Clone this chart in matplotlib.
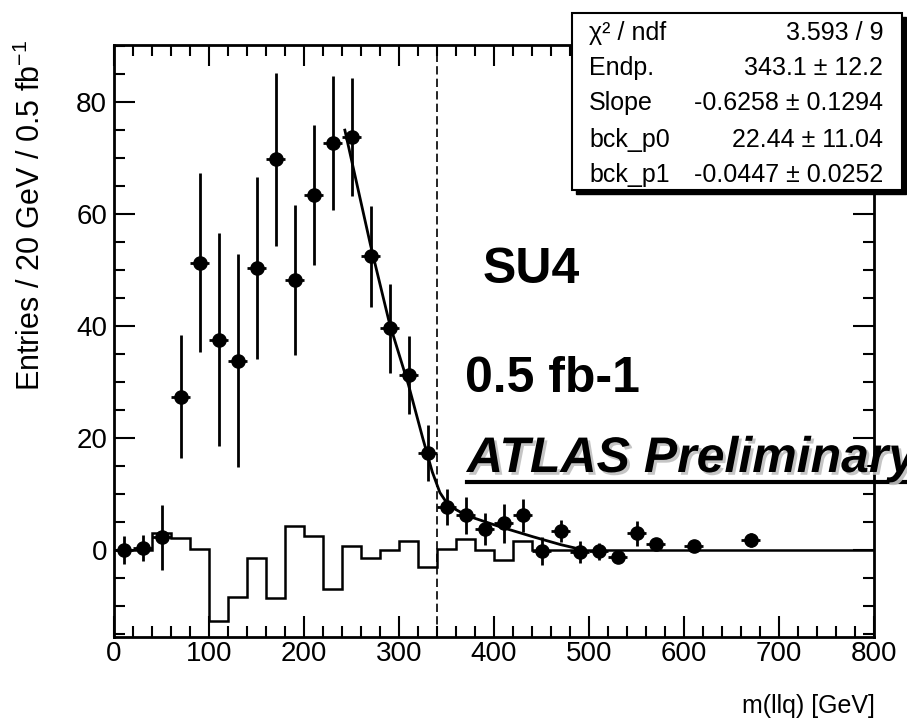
import matplotlib
matplotlib.use("Agg")
import matplotlib.pyplot as plt
import matplotlib.patheffects as pe
from matplotlib.patches import Rectangle
from matplotlib.lines import Line2D
from matplotlib.ticker import MultipleLocator

# data points m(llq), 20 GeV bins
pt_x = [10, 30, 50, 70, 90, 110, 130, 150, 170, 190, 210, 230, 250, 270, 290, 310,
        330, 350, 370, 390, 410, 430, 450, 470, 490, 510, 530, 550, 570, 610, 670]
pt_y = [0.0, 0.4, 2.3, 27.4, 51.3, 37.6, 33.8, 50.4, 69.8, 48.2, 63.4, 72.7, 73.8, 52.5, 39.6, 31.3,
        17.3, 7.7, 6.2, 3.8, 4.8, 6.2, -0.1, 3.4, -0.3, -0.2, -1.3, 3.0, 1.1, 0.75, 1.8]
pt_err = [2.5, 2.3, 5.8, 11.0, 16.0, 19.0, 19.0, 16.3, 15.4, 13.4, 12.5, 12.0, 10.5, 9.0, 8.0, 7.0,
          5.0, 3.2, 3.3, 2.9, 3.5, 3.0, 2.5, 2.0, 2.0, 1.5, 1.0, 2.3, 1.0, 0.9, 1.3]

# background (open histogram), 40 bins 0-800
hist_edges = list(range(0, 820, 20))
hist_vals = [0, 0, 3.0, 2.2, 0.3, -12.6, -8.3, -1.4, -8.6, 4.3,
             2.5, -7.0, 0.7, -1.4, 0, 1.7, -3.0, 0.2, 2.0, 0,
             -1.8, 1.7, 0, 0, 0, 0, 0, 0, 0, 0,
             0, 0, 0, 0, 0, 0, 0, 0, 0, 0]

# endpoint fit curve
fit_x = [243, 270, 290, 310, 325, 335, 343, 352, 371, 406, 441, 470, 495]
fit_y = [75.0, 54.5, 40.5, 29.5, 20.0, 14.0, 10.3, 8.0, 6.2, 4.2, 2.4, 1.0, 0.0]

endpoint_line = 340

stat_names = ["\u03c7\u00b2 / ndf", "Endp.", "Slope", "bck_p0", "bck_p1"]
stat_vals = ["3.593 / 9", "343.1 \u00b1 12.2", "-0.6258 \u00b1 0.1294",
             "22.44 \u00b1 11.04", "-0.0447 \u00b1 0.0252"]

plt.rcParams["font.family"] = ["Liberation Sans", "DejaVu Sans"]
plt.rcParams["mathtext.fontset"] = "custom"
plt.rcParams["mathtext.rm"] = "Liberation Sans"
plt.rcParams["mathtext.it"] = "Liberation Sans:italic"

W, H = 907, 726
fig = plt.figure(figsize=(W / 100, H / 100), dpi=100)
ax = fig.add_axes([114 / W, 1 - 637 / H, (874 - 114) / W, (637 - 45) / H])

ax.stairs(hist_vals, hist_edges, color="black", lw=1.8, zorder=2)
ax.errorbar(pt_x, pt_y, yerr=pt_err, xerr=10, fmt="o", color="black", ms=9.5,
            elinewidth=2.0, capsize=0, zorder=4)
ax.plot(fit_x, fit_y, color="black", lw=2.0, zorder=3)
ax.axvline(endpoint_line, color="black", lw=1.2, ls=(0, (5, 2.5)), zorder=1)

ax.set_xlim(0, 800)
ax.set_ylim(-15.5, 90.2)
ax.xaxis.set_major_locator(MultipleLocator(100))
ax.xaxis.set_minor_locator(MultipleLocator(20))
ax.yaxis.set_major_locator(MultipleLocator(20))
ax.yaxis.set_minor_locator(MultipleLocator(5))
ax.tick_params(which="both", direction="in", top=True, right=True, width=1.5, labelsize=20)
ax.tick_params(which="major", length=15)
ax.tick_params(which="minor", length=8)
ax.tick_params(axis="x", pad=3)
ax.tick_params(axis="y", pad=5)
for s in ax.spines.values():
    s.set_linewidth(2.0)

fig.text(31 / W, 1 - 40 / H, "Entries / 20 GeV / 0.5 fb$^{-1}$", rotation=90,
         ha="center", va="top", fontsize=22)
fig.text(875 / W, 1 - 706 / H, "m(llq) [GeV]", ha="right", va="center", fontsize=18)

# stat box with shadow
bx0, bx1, by0, by1 = 572, 902, 13, 190
fig.patches.append(Rectangle(((bx0 + 4) / W, 1 - (by1 + 4) / H), (bx1 - bx0) / W, (by1 - by0) / H,
                             transform=fig.transFigure, facecolor="black", edgecolor="black", zorder=10))
fig.patches.append(Rectangle((bx0 / W, 1 - by1 / H), (bx1 - bx0) / W, (by1 - by0) / H,
                             transform=fig.transFigure, facecolor="white", edgecolor="black",
                             lw=1.5, zorder=11))
row_base = [40, 75, 110, 147, 182]
for name, val, yb in zip(stat_names, stat_vals, row_base):
    fig.text(589 / W, 1 - yb / H, name, ha="left", va="baseline", fontsize=18, zorder=12)
    fig.text(883 / W, 1 - yb / H, val, ha="right", va="baseline", fontsize=18, zorder=12)

# annotations
fig.text(483 / W, 1 - 283 / H, "SU4", ha="left", va="baseline", fontsize=36,
         fontweight="bold", zorder=12)
fig.text(465 / W, 1 - 392 / H, "0.5 fb-1", ha="left", va="baseline", fontsize=36,
         fontweight="bold", zorder=12)
atl = fig.text(467 / W, 1 - 472 / H, "ATLAS Preliminary", ha="left", va="baseline", fontsize=36,
               fontweight="bold", fontstyle="italic", zorder=12)
atl.set_path_effects([pe.withSimplePatchShadow(offset=(2, -2), shadow_rgbFace="0.75", alpha=0.9)])
fig.add_artist(Line2D([467 / W, 905 / W], [1 - 482 / H, 1 - 482 / H], transform=fig.transFigure,
                      color="black", lw=3.0, zorder=12))

fig.savefig("out.png", dpi=100)
